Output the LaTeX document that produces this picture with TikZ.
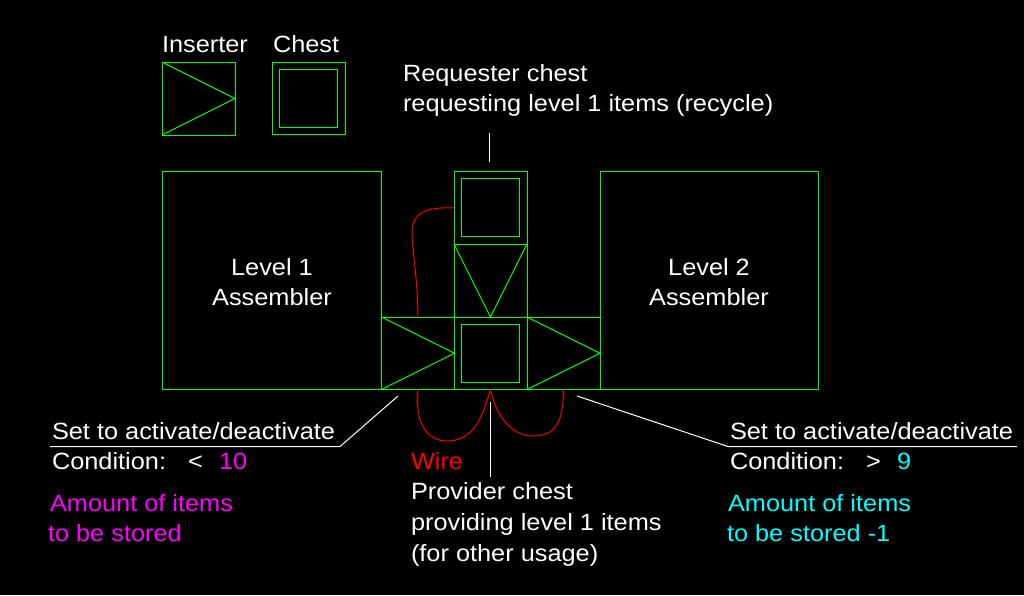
\documentclass[tikz,border=0pt]{standalone}
\usepackage{fontspec}
\setmainfont[FakeStretch=1.078]{Liberation Sans}
\definecolor{cadgreen}{RGB}{0,255,0}
\definecolor{cadred}{RGB}{255,0,0}
\definecolor{cadmagenta}{RGB}{255,0,255}
\definecolor{cadcyan}{RGB}{0,255,255}
\tikzset{
  block/.style={draw=cadgreen,line width=1pt,inner sep=0,outer sep=0,minimum width=#1,minimum height=#1},
  blade/.style={draw=cadgreen,line width=1pt},
  wire/.style={draw=cadred,line width=1pt},
  leader/.style={draw=white,line width=1pt},
  label/.style={anchor=base west,inner sep=0,outer sep=0,font=\fontsize{23.5}{28}\selectfont,text=white},
  centrelabel/.style={label,anchor=base},
  pinklabel/.style={label,text=cadmagenta},
  cyanlabel/.style={label,text=cadcyan},
  redlabel/.style={label,text=cadred}
}
\begin{document}
\begin{tikzpicture}[x=1pt,y=-1pt]
\useasboundingbox[fill=black] (0,0) rectangle (1024,595);

% legend
\node[block=73pt] (legins) at (198.5,98.5) {};
\node[block=72.5pt] (legchest) at (309,98.5) {};
\node[block=58pt] (legchestin) at (308.5,98.5) {};
\draw[blade] (legins.north west) -- (legins.east) -- (legins.south west);
\node[label] (tinserter) at (162,52) {Inserter};
\node[label] (tchest) at (273,52) {Chest};

% assemblers
\node[block=218pt,minimum width=219pt] (lvlone) at (271.75,280.5) {};
\node[block=218pt] (lvltwo) at (709,280.5) {};
\node[centrelabel] (lvlonea) at (272,275) {Level 1};
\node[centrelabel] (lvloneb) at (272,305) {Assembler};
\node[centrelabel] (lvltwoa) at (709,275) {Level 2};
\node[centrelabel] (lvltwob) at (709,305) {Assembler};

% centre column
\node[block=73pt] (reqchest) at (490.5,208) {};
\node[block=58pt] (reqin) at (490.5,207.5) {};
\node[block=73pt] (midins) at (490.5,280.5) {};
\draw[blade] (midins.north west) -- (midins.south) -- (midins.north east);
\node[block=73pt,minimum height=72.5pt] (provchest) at (490.5,353.25) {};
\node[block=58pt] (provin) at (490.5,353) {};
\node[block=73pt,minimum height=72.5pt] (leftins) at (418,353.25) {};
\draw[blade] (leftins.north west) -- (leftins.east) -- (leftins.south west);
\node[block=73pt,minimum height=72.5pt] (rightins) at (563.5,353.25) {};
\draw[blade] (rightins.north west) -- (rightins.east) -- (rightins.south west);

% wires
\draw[wire] (reqchest.west) .. controls (432,207) and (412,210) .. (412,232)
  .. controls (412,250) and (417.5,275) .. (leftins.north);
\draw[wire] (leftins.south) .. controls (415,420) and (425,441) .. (447,441)
  .. controls (475,441) and (483,415) .. (provchest.south);
\draw[wire] (provchest.south) .. controls (497,420) and (515,436) .. (532,436)
  .. controls (558,436) and (563,420) .. (rightins.south);

% leaders
\coordinate (ta) at (489.5,133);
\coordinate (tb) at (489.5,162);
\draw[leader] (ta) -- (tb);
\coordinate (ba) at (490.5,402);
\coordinate (bb) at (490.5,477);
\draw[leader] (ba) -- (bb);
\coordinate (la) at (398,396);
\coordinate (lb) at (340,446.5);
\coordinate (lc) at (50,446.5);
\draw[leader] (la) -- (lb) -- (lc);
\coordinate (ra) at (577,396);
\coordinate (rb) at (728,446.5);
\coordinate (rc) at (1017,446.5);
\draw[leader] (ra) -- (rb) -- (rc);

% texts
\node[label] (req1) at (403,81) {Requester chest};
\node[label] (req2) at (403,111) {requesting level 1 items (recycle)};
\node[label] (setl) at (52,439) {Set to activate/deactivate};
\node[label] (condl) at (52,469) {Condition:};
\node[label] (ltl) at (188,469) {<};
\node[pinklabel] (tenl) at (219,469) {10};
\node[pinklabel] (am1) at (50,511) {Amount of items};
\node[pinklabel] (am2) at (48,541) {to be stored};
\node[redlabel] (wiret) at (411,469) {Wire};
\node[label] (prov1) at (411,499) {Provider chest};
\node[label] (prov2) at (411,530) {providing level 1 items};
\node[label] (prov3) at (411,561) {(for other usage)};
\node[label] (setr) at (730,439) {Set to activate/deactivate};
\node[label] (condr) at (730,469) {Condition:};
\node[label] (gtr) at (866,469) {>};
\node[cyanlabel] (ninet) at (897,469) {9};
\node[cyanlabel] (am3) at (728,511) {Amount of items};
\node[cyanlabel] (am4) at (727,541) {to be stored -1};
\end{tikzpicture}
\end{document}
